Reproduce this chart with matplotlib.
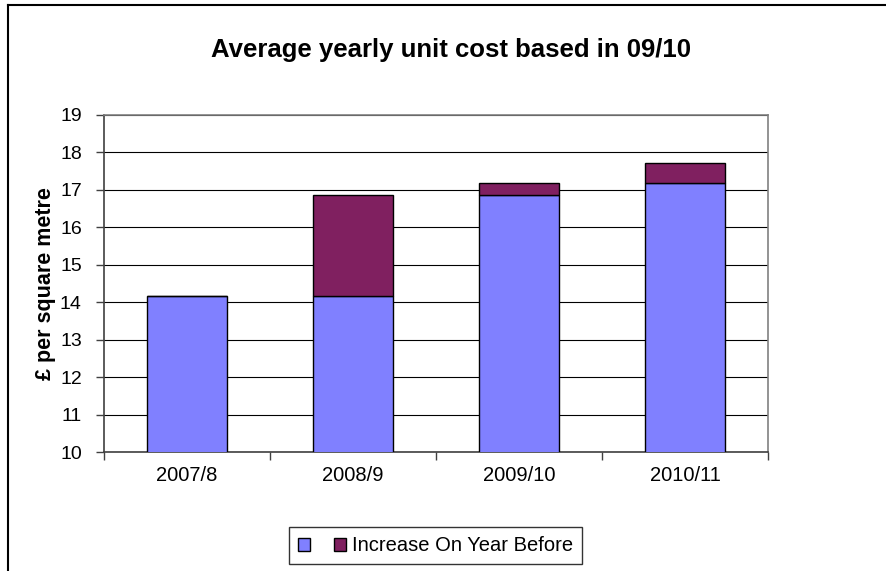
import matplotlib
matplotlib.use("Agg")
import matplotlib.pyplot as plt
from matplotlib.lines import Line2D
from matplotlib.patches import Patch
import numpy as np

plt.rcParams['font.family'] = ['Liberation Sans', 'DejaVu Sans']

years = ['2007/8', '2008/9', '2009/10', '2010/11']
base_cost = [14.17, 14.17, 16.87, 17.19]      # cost carried over from year before
increase = [0.0, 2.70, 0.32, 0.53]            # increase on year before
y_ticks = list(range(10, 20))

blue = '#8080FF'
plum = '#802060'

fig = plt.figure(figsize=(8.86, 5.71), dpi=100)
ax = fig.add_axes([0.1174, 0.2084, 0.7494, 0.5902])

x = np.arange(len(years))
ax.bar(x, base_cost, width=0.48, color=blue, edgecolor='black', linewidth=1.0, zorder=3)
ax.bar(x, increase, bottom=base_cost, width=0.48, color=plum, edgecolor='black',
       linewidth=1.0, zorder=3)

ax.set_ylim(10, 19)
ax.set_xlim(-0.5, len(years) - 0.5)
ax.set_yticks(y_ticks)
ax.set_yticklabels([str(t) for t in y_ticks], fontsize=14)
ax.yaxis.grid(True, color='black', linewidth=0.8, zorder=0)
ax.set_axisbelow(True)

# category labels centred, ticks on the category boundaries
ax.set_xticks(x)
ax.set_xticklabels(years, fontsize=14.5)
ax.tick_params(axis='x', which='major', length=0, pad=10)
ax.set_xticks(np.arange(-0.5, len(years)), minor=True)
ax.tick_params(axis='x', which='minor', length=6, width=1, color='#404040')
ax.tick_params(axis='y', length=6, width=1, color='#404040', pad=10)

for side in ['top', 'right']:
    ax.spines[side].set_color('#808080')
for side in ['left', 'bottom']:
    ax.spines[side].set_color('#404040')
for s in ax.spines.values():
    s.set_linewidth(1.2)

ax.set_ylabel('£ per square metre', fontsize=15.5, fontweight='bold')
ax.yaxis.set_label_coords(-0.073, 0.5)
fig.text(0.509, 0.912, 'Average yearly unit cost based in 09/10', ha='center', va='center',
         fontsize=18.5, fontweight='bold')

handles = [Patch(facecolor=blue, edgecolor='black', linewidth=1.0),
           Patch(facecolor=plum, edgecolor='black', linewidth=1.0)]
leg = fig.legend(handles, ['', 'Increase On Year Before'], loc='center',
                 bbox_to_anchor=(0.4915, 0.044), ncol=2, fontsize=14.5, frameon=True,
                 fancybox=False, edgecolor='black', handlelength=0.6, handleheight=0.6,
                 columnspacing=0.9, handletextpad=0.3, borderpad=0.45)
leg.get_frame().set_linewidth(1.0)

# outer chart border (runs off the right and bottom of the image)
W, H = 886.0, 571.0
fig.add_artist(Line2D([8 / W, 1.0], [1 - 5 / H, 1 - 5 / H], color='black', linewidth=1.5))
fig.add_artist(Line2D([8 / W, 8 / W], [0.0, 1 - 5 / H], color='black', linewidth=1.5))

fig.savefig('out.png', dpi=100)
